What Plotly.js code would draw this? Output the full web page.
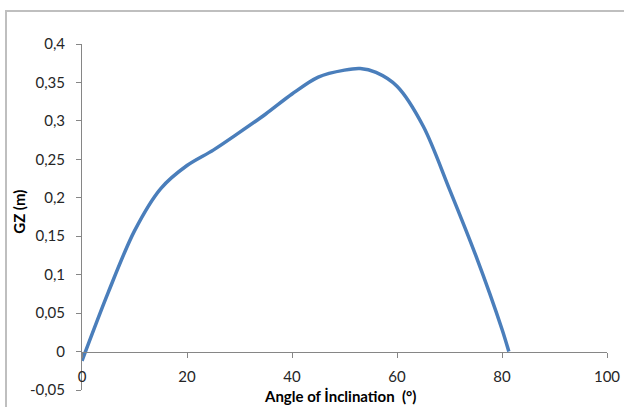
<!DOCTYPE html>
<html>
<head>
<meta charset="utf-8">
<script src="https://cdn.plot.ly/plotly-3.0.1.min.js"></script>
<style>
  html, body { margin: 0; padding: 0; background: #fff; }
  #chart { width: 624px; height: 407px; }
</style>
</head>
<body>
<div id="chart"></div>
<script>
// Data
const angleDeg = [0, 5, 10, 15, 20, 25, 30, 35, 40, 45, 50, 53, 56, 60, 65, 70, 75, 80, 81.3];
const gzMetres = [-0.012, 0.077, 0.157, 0.212, 0.242, 0.262, 0.285, 0.309, 0.335, 0.357, 0.366, 0.368, 0.363, 0.345, 0.293, 0.211, 0.125, 0.029, 0.0];

const yTickVals = [-0.05, 0, 0.05, 0.1, 0.15, 0.2, 0.25, 0.3, 0.35, 0.4];
const yTickText = ['-0,05', '0', '0,05', '0,1', '0,15', '0,2', '0,25', '0,3', '0,35', '0,4'];
const xTickVals = [0, 20, 40, 60, 80, 100];
const xTickText = ['0', '20', '40', '60', '80', '100'];

const xTitle = 'Angle of İnclination  (°)';
const yTitle = 'GZ (m)';

const fam = 'Lato, "Open Sans", sans-serif';
const tickFont = { family: fam, size: 15, color: '#262626' };
const titleFont = { family: fam, size: 15, color: '#000000' };
const axisGray = '#868686';

const yMin = -0.05, yMax = 0.4;
const zeroPos = (0 - yMin) / (yMax - yMin);

const trace = {
  x: angleDeg,
  y: gzMetres,
  type: 'scatter',
  mode: 'lines',
  line: { color: '#4A7EBB', width: 3.5, shape: 'spline', smoothing: 0.9 },
  hoverinfo: 'x+y'
};

const layout = {
  width: 624,
  height: 407,
  margin: { l: 82, r: 17, t: 44, b: 16.5, pad: 0 },
  paper_bgcolor: '#ffffff',
  plot_bgcolor: '#ffffff',
  showlegend: false,
  font: tickFont,
  xaxis: {
    range: [0, 100],
    tickvals: xTickVals,
    ticktext: xTickText,
    showgrid: false,
    zeroline: false,
    showline: true,
    linecolor: axisGray,
    linewidth: 1,
    ticks: 'outside',
    ticklen: 5,
    tickcolor: axisGray,
    tickfont: tickFont,
    ticklabelstandoff: 6,
    anchor: 'free',
    position: zeroPos,
    fixedrange: true
  },
  yaxis: {
    range: [yMin, yMax],
    tickvals: yTickVals,
    ticktext: yTickText,
    showgrid: false,
    zeroline: false,
    showline: true,
    linecolor: axisGray,
    linewidth: 1,
    ticks: 'outside',
    ticklen: 5,
    tickcolor: axisGray,
    tickfont: tickFont,
    ticklabelstandoff: 8,
    fixedrange: true
  },
  annotations: [
    {
      text: '<b>' + xTitle + '</b>',
      xref: 'paper', yref: 'paper',
      x: (340 - 82) / 525, y: (390.5 - 397) / 346.5,
      xanchor: 'center', yanchor: 'middle',
      showarrow: false,
      font: titleFont
    },
    {
      text: '<b>' + yTitle + '</b>',
      xref: 'paper', yref: 'paper',
      x: (19 - 82) / 525, y: (390.5 - 212) / 346.5,
      xanchor: 'center', yanchor: 'middle',
      textangle: -90,
      showarrow: false,
      font: titleFont
    }
  ],
  shapes: [
    {
      type: 'rect', xref: 'paper', yref: 'paper',
      x0: (6 - 82) / 525, x1: 1.2,
      y0: -0.2, y1: (390.5 - 11) / 346.5,
      line: { color: '#BFBFBF', width: 2 },
      fillcolor: 'rgba(0,0,0,0)',
      layer: 'below'
    }
  ]
};

Plotly.newPlot('chart', [trace], layout, { displayModeBar: false, staticPlot: true });
</script>
</body>
</html>
